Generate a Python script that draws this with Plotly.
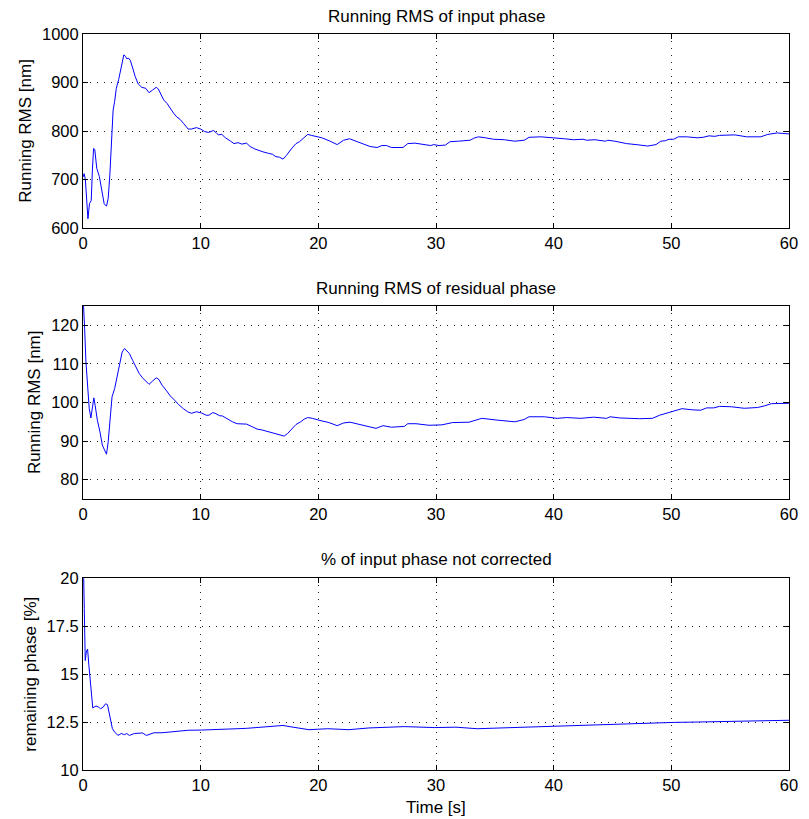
import plotly.graph_objects as go

# ---------------- data ----------------
t_input = [0, 0.1, 0.2, 0.3, 0.42, 0.55, 0.7, 0.8, 0.9, 1.0,
           1.17, 1.39, 1.58, 1.8, 2.0, 2.14, 2.28, 2.42, 2.56, 2.69,
           2.83, 3.03, 3.25, 3.47, 3.61, 3.72, 3.89, 4.03, 4.22, 4.44,
           4.69, 5.0, 5.33, 5.61, 5.89, 6.22, 6.39, 6.58, 6.86, 7.14,
           7.42, 7.69, 7.97, 8.25, 8.53, 8.94, 9.22, 9.64, 10.0, 10.33,
           10.67, 11.08, 11.3, 11.5, 11.8, 12.1, 12.55, 12.83, 13.17, 13.5,
           13.9, 14.2, 14.6, 15.0, 15.3, 15.75, 16.1, 16.4, 16.7, 17.0,
           17.3, 17.7, 18.1, 18.4, 18.75, 19.1, 19.4, 19.9, 20.3, 21.0,
           21.6, 22.15, 22.65, 23.3, 23.8, 24.4, 25.0, 25.4, 25.8, 26.2,
           27.2, 27.6, 28.2, 28.85, 29.55, 29.8, 30.25, 30.8, 31.2, 31.9,
           32.9, 33.2, 33.6, 34.2, 34.9, 35.8, 36.7, 37.5, 37.9, 38.9,
           40.0, 40.9, 41.7, 42.5, 42.8, 43.5, 44.4, 44.6, 45.2, 46.2,
           47.0, 48.0, 48.7, 49.1, 49.5, 49.8, 50.2, 50.6, 51.3, 52.2,
           52.7, 53.2, 53.7, 54.1, 55.4, 56.4, 57.6, 58.2, 59.0, 60]
rms_input = [705, 712, 700, 660, 619, 650, 657, 720, 764, 762,
             723, 706, 681, 650, 645, 661, 709, 764, 843, 861,
             888, 906, 933, 957, 954, 949, 950, 945, 930, 912,
             897, 890, 888, 879, 884, 890, 887, 878, 864, 857,
             846, 837, 829, 824, 816, 804, 804, 807, 804, 799,
             797, 801, 797, 792, 793, 786, 779, 774, 776, 773,
             775, 768, 763, 759, 757, 754, 752, 747, 746, 742,
             750, 763, 774, 778, 785, 793, 791, 788, 786, 779,
             772, 781, 784, 778, 773, 768, 766, 770, 770, 766,
             766, 774, 775, 772, 770, 772, 770, 771, 778, 779,
             781, 785, 788, 786, 783, 782, 779, 781, 787, 788,
             785, 784, 782, 783, 781, 782, 779, 781, 779, 774,
             772, 769, 772, 779, 780, 783, 783, 788, 788, 786,
             787, 790, 789, 791, 792, 788, 788, 793, 796, 794]

t_resid = [0, 0.06, 0.14, 0.25, 0.39, 0.53, 0.67, 0.8, 0.92, 1.03,
           1.22, 1.44, 1.64, 1.83, 2.0, 2.14, 2.28, 2.47, 2.69, 2.92,
           3.11, 3.33, 3.53, 3.72, 3.94, 4.22, 4.5, 4.78, 5.06, 5.33,
           5.61, 5.89, 6.22, 6.44, 6.72, 7.06, 7.42, 7.78, 8.11, 8.53,
           8.89, 9.22, 9.64, 10.06, 10.47, 10.7, 11.03, 11.3, 11.58, 11.86,
           12.28, 12.7, 13.1, 13.5, 13.9, 14.4, 14.8, 15.2, 15.6, 16.0,
           16.4, 16.9, 17.1, 17.4, 17.8, 18.1, 18.5, 18.8, 19.1, 19.5,
           20.06, 20.9, 21.6, 22.15, 22.7, 23.4, 24.2, 24.9, 25.5, 26.2,
           27.3, 27.6, 28.3, 29.4, 30.5, 31.4, 32.8, 33.5, 33.9, 35.0,
           36.7, 37.5, 37.9, 39.2, 40.3, 41.1, 42.3, 43.4, 44.5, 44.8,
           45.6, 47.3, 48.4, 49.0, 49.8, 50.9, 51.8, 52.5, 53.0, 53.6,
           54.1, 55.1, 56.2, 57.3, 57.9, 58.5, 60]
rms_resid = [128, 124.9, 119.1, 110.5, 102.8, 98.4, 96.0, 99.3, 101.2, 99.3,
             95.4, 92.4, 89.0, 87.7, 86.6, 89.8, 95.0, 101.5, 103.6, 107.1,
             110.5, 113.1, 114.0, 113.5, 112.7, 110.9, 109.2, 107.5, 106.4, 105.5,
             104.7, 105.5, 106.4, 106.0, 104.5, 103.2, 101.7, 100.6, 99.5, 98.4,
             97.6, 97.2, 97.6, 97.3, 96.7, 96.7, 97.4, 97.1, 96.6, 96.5,
             95.7, 95.0, 94.5, 94.5, 94.4, 93.7, 93.1, 92.9, 92.6, 92.3,
             91.9, 91.6, 91.3, 92.0, 93.3, 94.3, 95.0, 95.7, 96.1, 95.9,
             95.4, 94.8, 94.0, 94.7, 94.9, 94.4, 93.7, 93.3, 94.0, 93.6,
             93.8, 94.5, 94.5, 94.1, 94.2, 94.8, 94.9, 95.6, 95.9, 95.5,
             95.0, 95.6, 96.3, 96.3, 95.9, 96.1, 95.9, 96.2, 95.9, 96.3,
             96.0, 95.8, 95.9, 96.7, 97.5, 98.4, 98.1, 98.0, 98.6, 98.6,
             99.0, 98.9, 98.5, 98.7, 99.1, 99.7, 99.8]

t_pct = [0, 0.06, 0.11, 0.19, 0.28, 0.39, 0.5, 0.61, 0.75, 0.83,
         0.94, 1.11, 1.31, 1.5, 1.72, 1.92, 2.08, 2.22, 2.36, 2.5,
         2.69, 2.97, 3.25, 3.53, 3.72, 3.94, 4.36, 4.78, 5.06, 5.39,
         5.67, 6.03, 6.72, 7.28, 8.1, 8.94, 10.06, 11.17, 12.28, 13.1,
         13.9, 15.5, 17.0, 17.85, 19.2, 20.8, 22.6, 24.3, 27.3, 29.9,
         31.7, 33.5, 36.4, 39.3, 42.3, 45.2, 48.2, 50.3, 52.3, 55.2, 56.7, 60]
pct_remaining = [20.5, 19.97, 18.4, 15.7, 16.15, 16.3, 15.45, 14.76, 14.06, 13.23,
                 13.28, 13.33, 13.28, 13.19, 13.28, 13.45, 13.4, 13.02, 12.67, 12.15,
                 11.98, 11.8, 11.9, 11.84, 11.9, 11.8, 11.9, 11.94, 11.93, 11.8,
                 11.87, 11.94, 11.94, 11.98, 12.03, 12.07, 12.08, 12.12, 12.15, 12.15,
                 12.17, 12.24, 12.32, 12.23, 12.1, 12.15, 12.1, 12.19, 12.26, 12.21,
                 12.23, 12.15, 12.21, 12.26, 12.32, 12.39, 12.46, 12.48, 12.5, 12.52, 12.55, 12.59]

x_ticks = [0, 10, 20, 30, 40, 50, 60]
y1_ticks = [600, 700, 800, 900, 1000]
y2_ticks = [80, 90, 100, 110, 120]
y3_ticks = [10, 12.5, 15, 17.5, 20]
y3_ticklabels = ["10", "12.5", "15", "17.5", "20"]

titles = ["Running RMS of input phase", "Running RMS of residual phase",
          "% of input phase not corrected"]
ylabels = ["Running RMS [nm]", "Running RMS [nm]", "remaining phase [%]"]
xlabel = "Time [s]"

# ---------------- figure ----------------
W, H = 809, 819
ML, MR, MT, MB = 83, 11, 34, 49
PW, PH = W - ML - MR, H - MT - MB


def py2paper(py):
    return (H - MB - py) / PH


def px2paper(px):
    return (px - ML) / PW


FONT = "Liberation Sans, Arial, Helvetica, sans-serif"
LINE = dict(color="#0000ff", width=1)

fig = go.Figure()
fig.add_trace(go.Scatter(x=t_input, y=rms_input, mode="lines", line=LINE,
                         xaxis="x", yaxis="y", showlegend=False))
fig.add_trace(go.Scatter(x=t_resid, y=rms_resid, mode="lines", line=LINE,
                         xaxis="x2", yaxis="y2", showlegend=False))
fig.add_trace(go.Scatter(x=t_pct, y=pct_remaining, mode="lines", line=LINE,
                         xaxis="x3", yaxis="y3", showlegend=False))

common = dict(showline=True, linecolor="black", linewidth=1, mirror="ticks",
              ticks="inside", ticklen=5, tickcolor="black", tickwidth=1,
              showgrid=True, gridcolor="#222222", gridwidth=1, griddash="1px,6px",
              zeroline=False, tickfont=dict(family=FONT, size=16.5, color="black"))

domains = [(py2paper(228), py2paper(34)), (py2paper(499), py2paper(306)),
           (py2paper(770), py2paper(578))]

xnames = ["xaxis", "xaxis2", "xaxis3"]
ynames = ["yaxis", "yaxis2", "yaxis3"]
yrefs = ["y", "y2", "y3"]
xrefs = ["x", "x2", "x3"]
yranges = [[600, 1000], [75, 125], [10, 20]]
yticks = [(y1_ticks, [str(v) for v in y1_ticks]),
          (y2_ticks, [str(v) for v in y2_ticks]),
          (y3_ticks, y3_ticklabels)]

layout = {}
for i in range(3):
    layout[xnames[i]] = dict(common, domain=[0, 1], range=[0, 60], anchor=yrefs[i],
                             tickvals=x_ticks, ticktext=[str(v) for v in x_ticks])
    layout[ynames[i]] = dict(common, domain=list(domains[i]), range=yranges[i],
                             anchor=xrefs[i], tickvals=yticks[i][0],
                             ticktext=yticks[i][1])

fig.update_layout(**layout)

annotations = []
title_py = [16.5, 288.5, 559.5]
ylabel_px = [25, 34, 29]
ylabel_py = [131, 402.5, 674]
for i in range(3):
    annotations.append(dict(text=titles[i], xref="paper", yref="paper",
                            x=px2paper(440.5), y=py2paper(title_py[i]),
                            xanchor="center", yanchor="middle", showarrow=False,
                            font=dict(family=FONT, size=17, color="black")))
    annotations.append(dict(text=ylabels[i], xref="paper", yref="paper",
                            x=px2paper(ylabel_px[i]), y=py2paper(ylabel_py[i]),
                            xanchor="center", yanchor="middle", showarrow=False,
                            textangle=-90,
                            font=dict(family=FONT, size=17, color="black")))
annotations.append(dict(text=xlabel, xref="paper", yref="paper",
                        x=px2paper(440.5), y=py2paper(807),
                        xanchor="center", yanchor="middle", showarrow=False,
                        font=dict(family=FONT, size=17, color="black")))

fig.update_layout(width=W, height=H, autosize=False,
                  margin=dict(l=ML, r=MR, t=MT, b=MB, pad=0),
                  paper_bgcolor="white", plot_bgcolor="white",
                  font=dict(family=FONT, color="black"),
                  annotations=annotations, showlegend=False)

fig.write_html("out.html",
               config={"displayModeBar": False, "responsive": False},
               post_script="document.body.style.margin='0';document.body.style.padding='0';"
                           "document.body.style.overflow='hidden';")
